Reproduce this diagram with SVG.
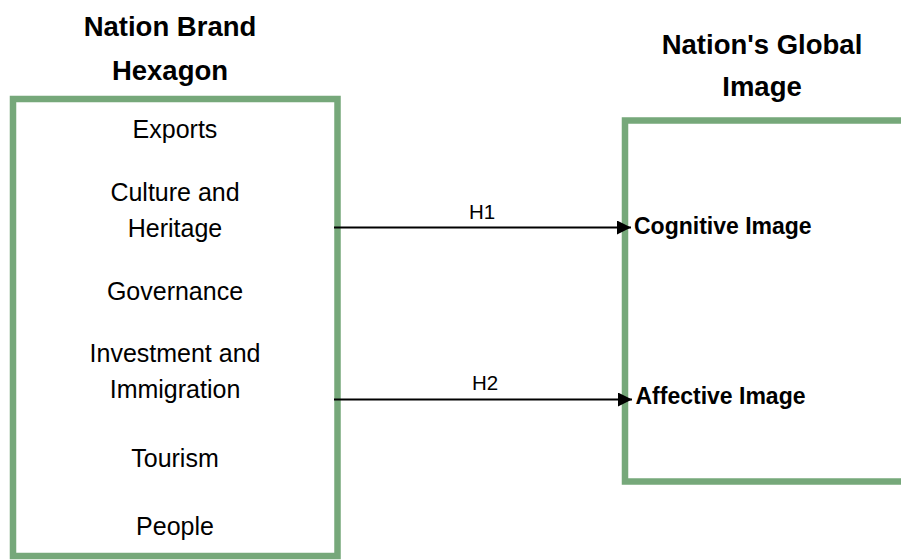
<svg xmlns="http://www.w3.org/2000/svg" width="901" height="560" viewBox="0 0 901 560">
<style>
.box{fill:#ffffff;stroke:#76A87A;stroke-width:6.5}
.t{font-family:"Liberation Sans",Arial,sans-serif;font-size:25px;fill:#000;text-anchor:middle}
.title{font-family:"Liberation Sans",Arial,sans-serif;font-size:27.5px;font-weight:bold;fill:#000;text-anchor:middle}
.lbl{font-family:"Liberation Sans",Arial,sans-serif;font-size:23px;font-weight:bold;fill:#000}
.h{font-family:"Liberation Sans",Arial,sans-serif;font-size:20.5px;fill:#000;text-anchor:middle}
.conn{stroke:#000;stroke-width:2;fill:none}
</style>
<defs>
<marker id="arr" markerUnits="userSpaceOnUse" markerWidth="14" markerHeight="14" refX="14" refY="7" orient="auto">
<path d="M0,0 L14,7 L0,14 Z" fill="#000"/>
</marker>
</defs>
<rect width="901" height="560" fill="#ffffff"/>
<g id="title-left">
<text class="title" x="170" y="36">Nation Brand</text>
<text class="title" x="170" y="80">Hexagon</text>
</g>
<g id="title-right">
<text class="title" x="762" y="54">Nation's Global</text>
<text class="title" x="762" y="96">Image</text>
</g>
<g id="nation-brand-hexagon">
<rect class="box" x="13" y="99" width="324.5" height="457"/>
<text class="t" x="175" y="138">Exports</text>
<text class="t" x="175" y="200.5">Culture and</text>
<text class="t" x="175" y="236.5">Heritage</text>
<text class="t" x="175" y="300">Governance</text>
<text class="t" x="175" y="361.5">Investment and</text>
<text class="t" x="175" y="398">Immigration</text>
<text class="t" x="175" y="466.5">Tourism</text>
<text class="t" x="175" y="535">People</text>
</g>
<g id="nations-global-image">
<rect class="box" x="625" y="120.5" width="290" height="361"/>
</g>
<g id="cognitive-image">
<text class="lbl" x="634" y="234">Cognitive Image</text>
</g>
<g id="affective-image">
<text class="lbl" x="635.5" y="404">Affective Image</text>
</g>
<g id="connectors">
<line class="conn" x1="334" y1="227.5" x2="631" y2="227.5" marker-end="url(#arr)"/>
<line class="conn" x1="334" y1="399.5" x2="632" y2="399.5" marker-end="url(#arr)"/>
<text class="h" x="482" y="218.5">H1</text>
<text class="h" x="485" y="390">H2</text>
</g>
</svg>
